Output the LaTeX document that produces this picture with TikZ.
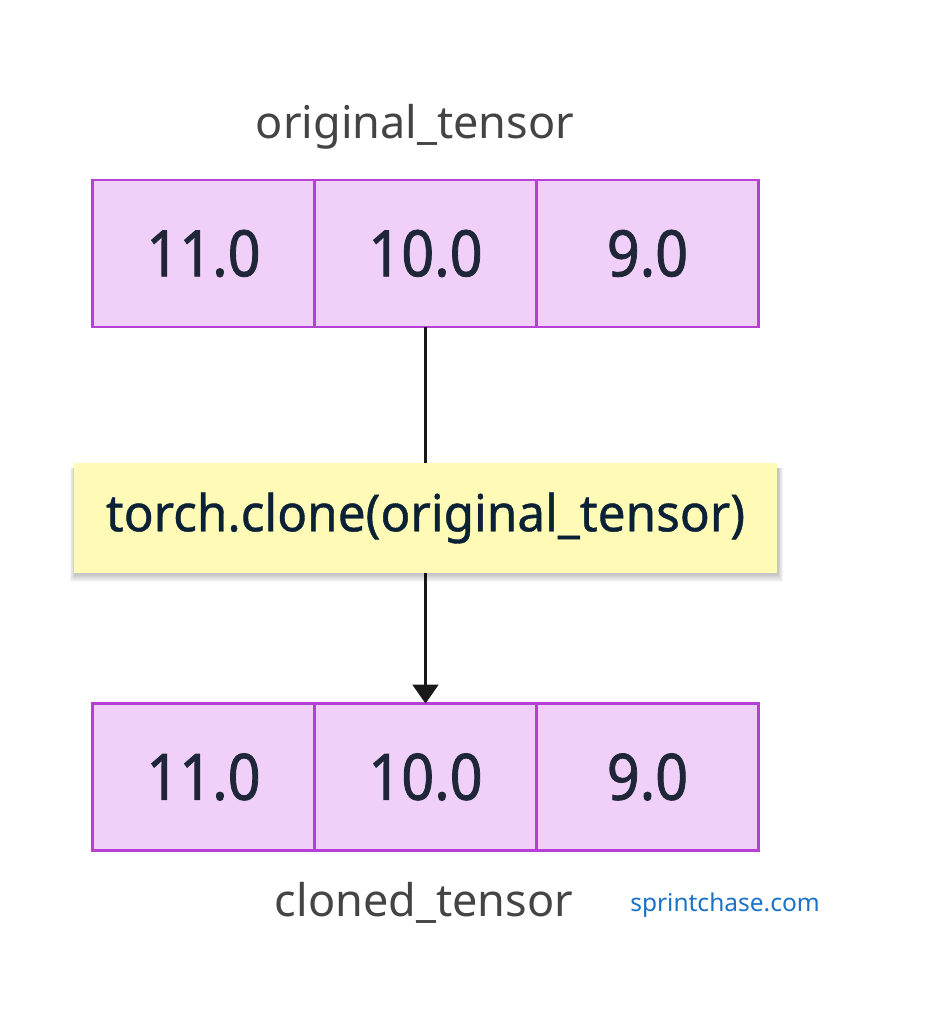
\documentclass[tikz,border=0pt]{standalone}
\usepackage{fontspec}
\setmainfont{Noto Sans}
\newfontfamily\cellfont{Noto Sans}[FakeBold=1.2, FakeStretch=0.9]
\newfontfamily\notefont{Noto Sans}[FakeBold=0.8, FakeStretch=0.97]
\usetikzlibrary{arrows.meta, positioning, shadows}
\definecolor{cellFill}{HTML}{F0D0F8}
\definecolor{cellLine}{HTML}{B640D6}
\definecolor{numText}{HTML}{1E2638}
\definecolor{labelGray}{HTML}{444444}
\definecolor{noteFill}{HTML}{FFFBB7}
\definecolor{noteText}{HTML}{0B2236}
\definecolor{siteBlue}{HTML}{1A72C9}

\tikzset{
    cell/.style={draw=cellLine, fill=cellFill, line width=2.5pt, outer sep=0pt, inner sep=0pt,
        minimum width=222pt, minimum height=147pt, text=numText, font=\cellfont\fontsize{64}{70}\selectfont},
    caption/.style={text=labelGray, font=\fontsize{45}{50}\selectfont},
    note/.style={fill=noteFill, text=noteText, minimum width=703pt, minimum height=110pt,
        font=\notefont\fontsize{51}{56}\selectfont},
}

\begin{document}
\begin{tikzpicture}[x=1pt, y=-1pt]
    \useasboundingbox (0,0) rectangle (926,1024);

    % original tensor
    \node[caption] (origName) at (415,127) {original\_tensor};
    \node[cell] (o1) at (203.5,253.5) {11.0};
    \node[cell, right=0pt of o1] (o2) {10.0};
    \node[cell, right=0pt of o2] (o3) {9.0};

    % cloned tensor
    \node[cell] (c1) at (203.5,777) {11.0};
    \node[cell, right=0pt of c1] (c2) {10.0};
    \node[cell, right=0pt of c2] (c3) {9.0};
    \node[caption] (clonedName) at (424,903) {cloned\_tensor};

    % clone operation
    \draw[-{Triangle[length=19pt, width=26pt]}, line width=2.5pt, black!90] (o2.south) -- (c2.north);
    % soft shadow under the note
    \foreach \s in {1,2,...,8}
        \fill[black, opacity=0.03] (75-\s*0.6,468) rectangle (778+\s*0.6,574+\s);
    \node[note] (cloneOp) at (425.5,518) {torch.clone(original\_tensor)};

    \node[text=siteBlue, font=\fontsize{24.5}{28}\selectfont] (site) at (725,905) {sprintchase.com};
\end{tikzpicture}
\end{document}
